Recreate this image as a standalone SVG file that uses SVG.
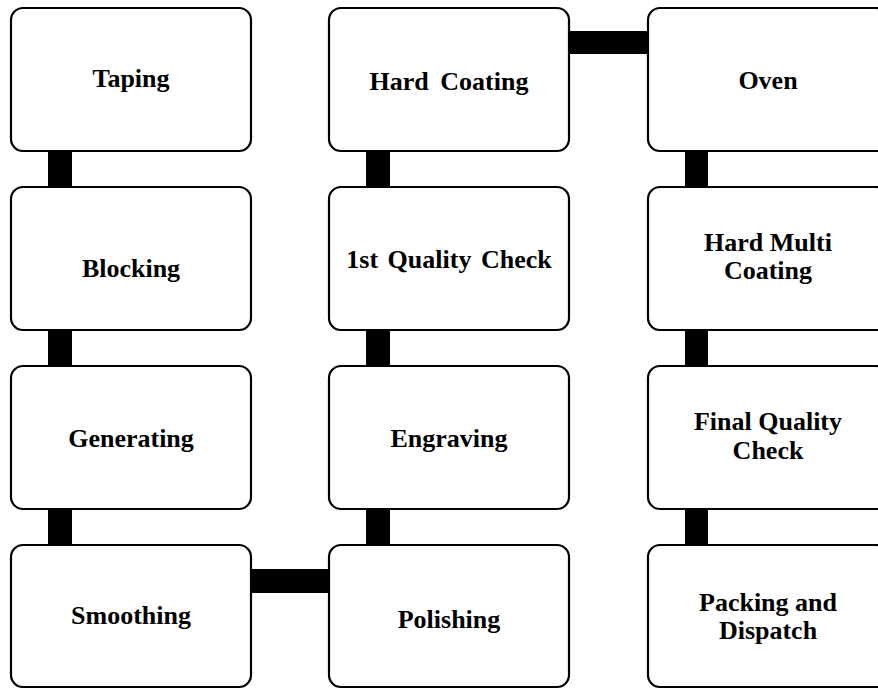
<svg xmlns="http://www.w3.org/2000/svg" width="878" height="689" viewBox="0 0 878 689">
<style>
.box{fill:#fff;stroke:#000;stroke-width:2.2}
.lbl{font-family:"Liberation Serif","Times New Roman",serif;font-weight:bold;font-size:26px;fill:#000;text-anchor:middle}
.conn{fill:#000}
</style>
<rect width="878" height="689" fill="#fff"/>
<g id="connectors">
<rect class="conn" x="48" y="150" width="24" height="38"/>
<rect class="conn" x="48" y="329" width="24" height="38"/>
<rect class="conn" x="48" y="508" width="24" height="38"/>
<rect class="conn" x="250" y="569" width="80" height="24"/>
<rect class="conn" x="366" y="508" width="24" height="38"/>
<rect class="conn" x="366" y="329" width="24" height="38"/>
<rect class="conn" x="366" y="150" width="24" height="38"/>
<rect class="conn" x="568" y="31" width="81" height="23"/>
<rect class="conn" x="685" y="150" width="23" height="38"/>
<rect class="conn" x="685" y="329" width="23" height="38"/>
<rect class="conn" x="685" y="508" width="23" height="38"/>
</g>
<g id="taping"><rect class="box" x="11" y="8" width="240" height="143" rx="12"/><text class="lbl" x="131" y="87">Taping</text></g>
<g id="blocking"><rect class="box" x="11" y="187" width="240" height="143" rx="12"/><text class="lbl" x="131" y="277">Blocking</text></g>
<g id="generating"><rect class="box" x="11" y="366" width="240" height="143" rx="12"/><text class="lbl" x="131" y="447">Generating</text></g>
<g id="smoothing"><rect class="box" x="11" y="545" width="240" height="142" rx="12"/><text class="lbl" x="131" y="624">Smoothing</text></g>
<g id="hard-coating"><rect class="box" x="329" y="8" width="240" height="143" rx="12"/><text class="lbl" x="449" y="90" word-spacing="5">Hard Coating</text></g>
<g id="quality-check-1"><rect class="box" x="329" y="187" width="240" height="143" rx="12"/><text class="lbl" x="449" y="268" word-spacing="3">1st Quality Check</text></g>
<g id="engraving"><rect class="box" x="329" y="366" width="240" height="143" rx="12"/><text class="lbl" x="449" y="447">Engraving</text></g>
<g id="polishing"><rect class="box" x="329" y="545" width="240" height="142" rx="12"/><text class="lbl" x="449" y="628">Polishing</text></g>
<g id="oven"><rect class="box" x="648" y="8" width="240" height="143" rx="12"/><text class="lbl" x="768" y="89">Oven</text></g>
<g id="hard-multi-coating"><rect class="box" x="648" y="187" width="240" height="143" rx="12"/><text class="lbl" x="768" y="251">Hard Multi</text><text class="lbl" x="768" y="279">Coating</text></g>
<g id="final-quality-check"><rect class="box" x="648" y="366" width="240" height="143" rx="12"/><text class="lbl" x="768" y="430">Final Quality</text><text class="lbl" x="768" y="459">Check</text></g>
<g id="packing-dispatch"><rect class="box" x="648" y="545" width="240" height="142" rx="12"/><text class="lbl" x="768" y="611">Packing and</text><text class="lbl" x="768" y="639">Dispatch</text></g>
</svg>
